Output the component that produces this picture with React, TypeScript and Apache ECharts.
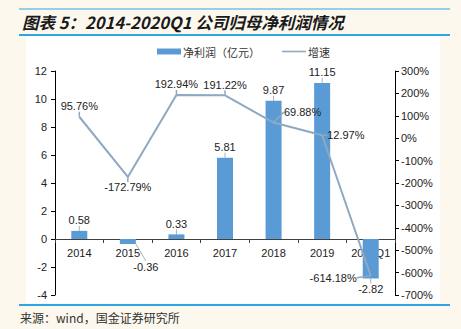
import React, { useEffect, useRef } from "react";
import * as echarts from "echarts";

const categories = ["2014", "2015", "2016", "2017", "2018", "2019", "2020Q1"];
const netProfit = [0.58, -0.36, 0.33, 5.81, 9.87, 11.15, -2.82];
const growth = [95.76, -172.79, 192.94, 191.22, 69.88, 12.97, -614.18];
const leftTicks = { min: -4, max: 12, interval: 2 };
const rightTicks = { min: -700, max: 300, interval: 100 };

// label placement (style, not data)
const growthLabelPos = ["top", "bottom", "top", "top", "top", "right", "left"];
const growthLabelOffset = [[21, 0], [-32, 0], [12, 3], [15, 3], [0, 0], [4, -9], [0, 0]];

const FONT = "Liberation Sans, Arial, sans-serif";
const CJK = "Noto Sans CJK SC";
const LINE_COLOR = "#8EA9C1";

const GRID = { left: 55, right: 66, top: 71, bottom: 34 };
const PLOT_H = 329 - GRID.top - GRID.bottom;
// distance of the zero line above the grid bottom, from the left axis scale
const zeroOffset = (PLOT_H * (0 - leftTicks.min)) / (leftTicks.max - leftTicks.min);

export default function App() {
  const ref = useRef<HTMLDivElement>(null);
  useEffect(() => {
    document.body.style.margin = "0";
    const chart = echarts.init(ref.current!, null, { renderer: "svg" });
    chart.setOption({
      animation: false,
      backgroundColor: "#FCF8EE",
      textStyle: { fontFamily: FONT },
      graphic: [
        { type: "rect", z: -10, shape: { x: 26, y: 36, width: 414, height: 267 }, style: { fill: "#ffffff" } },
        { type: "line", shape: { x1: 19, y1: 9, x2: 450, y2: 9 }, style: { stroke: "#2EA7E0", lineWidth: 1 } },
        { type: "line", shape: { x1: 19, y1: 35, x2: 450, y2: 35 }, style: { stroke: "#2EA7E0", lineWidth: 2 } },
        { type: "line", shape: { x1: 19, y1: 305, x2: 450, y2: 305 }, style: { stroke: "#2EA7E0", lineWidth: 2 } },
        {
          type: "text", x: 22, y: 22,
          style: {
            text: "图表 5：2014-2020Q1 公司归母净利润情况",
            fontFamily: CJK, fontSize: 16.5, fontWeight: "bold", fontStyle: "italic",
            fill: "#1a1a1a", verticalAlign: "middle",
          },
        },
        {
          type: "text", x: 20, y: 317,
          style: {
            text: "来源：wind，国金证券研究所",
            fontFamily: CJK, fontSize: 12, fill: "#333", verticalAlign: "middle",
          },
        },
      ],
      legend: {
        left: 152, top: 41, itemGap: 22, itemWidth: 24, itemHeight: 6,
        textStyle: { fontFamily: CJK, fontSize: 11, color: "#333", padding: [0, 0, 0, -3] },
        data: [
          { name: "净利润（亿元）", icon: "rect" },
          { name: "增速", icon: "path://M0 0H24V1.6H0Z", itemStyle: { color: LINE_COLOR } },
        ],
      },
      grid: GRID,
      xAxis: {
        type: "category", data: categories,
        offset: -zeroOffset,
        axisLine: { onZero: false, lineStyle: { color: "#404040", width: 1 } },
        axisTick: { show: true, length: 4, lineStyle: { color: "#404040" } },
        axisLabel: { color: "#222", fontSize: 11, margin: 8, interval: 0, fontFamily: FONT },
      },
      yAxis: [
        {
          type: "value", ...leftTicks,
          axisLine: { show: true, onZero: false, lineStyle: { color: "#000", width: 1 } },
          axisTick: { show: true, length: 4, lineStyle: { color: "#000" } },
          axisLabel: { color: "#222", fontSize: 11, margin: 8, fontFamily: FONT },
          splitLine: { show: false },
        },
        {
          type: "value", ...rightTicks,
          axisLine: { show: true, onZero: false, lineStyle: { color: "#000", width: 1 } },
          axisTick: { show: true, length: 4, lineStyle: { color: "#000" } },
          axisLabel: { color: "#222", fontSize: 11, margin: 6, formatter: "{value}%", fontFamily: FONT },
          splitLine: { show: false },
        },
      ],
      series: [
        {
          name: "净利润（亿元）", type: "bar", barWidth: 16,
          itemStyle: { color: "#5B9BD5" },
          data: netProfit.map((v) => ({
            value: v,
            label: { position: v < 0 ? "bottom" : "top" },
          })),
          label: {
            show: true, distance: 5, color: "#222", fontSize: 11, fontFamily: FONT,
            formatter: (p: any) => String(p.value),
          },
          labelLine: { show: true, lineStyle: { color: "#9FB3C5", width: 1 } },
          labelLayout: (p: any) => (p.dataIndex === 1 ? { dx: 18, dy: 12 } : {}),
        },
        {
          name: "增速", type: "line", yAxisIndex: 1,
          symbol: "circle", symbolSize: 0.01, showSymbol: true,
          lineStyle: { color: LINE_COLOR, width: 2 },
          itemStyle: { color: LINE_COLOR },
          data: growth.map((v, i) => ({
            value: v,
            label: { position: growthLabelPos[i], offset: growthLabelOffset[i] },
          })),
          label: {
            show: true, distance: 5, color: "#222", fontSize: 11, fontFamily: FONT,
            formatter: (p: any) => p.value.toFixed(2) + "%",
          },
          labelLine: { show: true, lineStyle: { color: LINE_COLOR, width: 1.5 } },
          labelLayout: (p: any) =>
            p.dataIndex === 4 ? { dx: 29, dy: 0 } : p.dataIndex === 6 ? { dx: -9, dy: 2 } : {},
        },
      ],
    });
    return () => chart.dispose();
  }, []);
  return <div ref={ref} style={{ width: 461, height: 329 }} />;
}
